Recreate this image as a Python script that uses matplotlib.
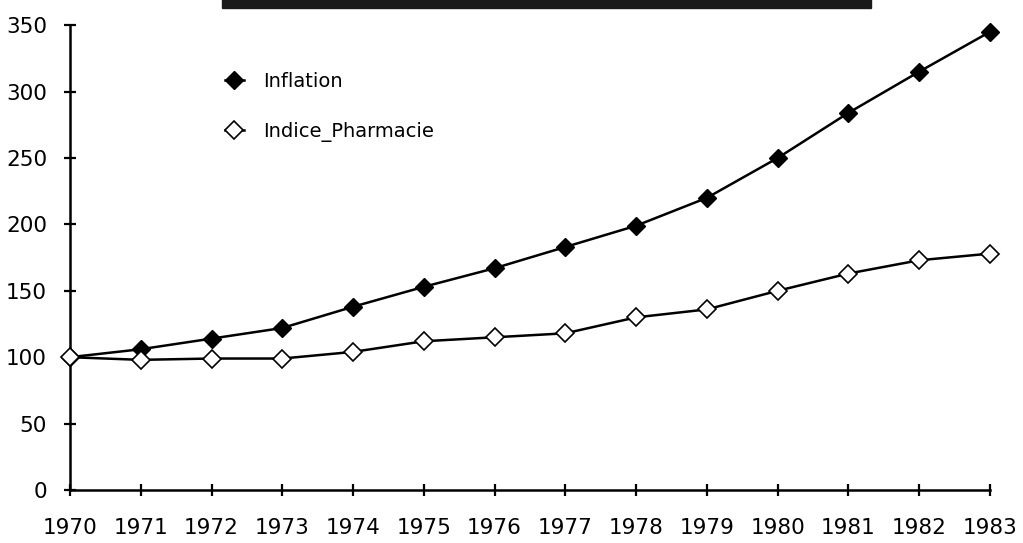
import matplotlib.pyplot as plt
from matplotlib.patches import Rectangle

annees = list(range(1970, 1984))
inflation = [100, 106, 114, 122, 138, 153, 167, 183, 199, 220, 250, 284, 315, 345]
pharmacie = [100, 98, 99, 99, 104, 112, 115, 118, 130, 136, 150, 163, 173, 178]
yticks = [0, 50, 100, 150, 200, 250, 300, 350]

fig = plt.figure(figsize=(10.23, 5.43), dpi=100)
ax = fig.add_axes([0.0684, 0.0976, 0.8993, 0.856])

# bandeau noir du titre (masqué sur le scan)
fig.patches.append(Rectangle((0.217, 0.985), 0.634, 0.02, transform=fig.transFigure,
                             color="#1a1a1a", zorder=5))

l1, = ax.plot(annees, inflation, color="black", lw=1.8, marker="D", ms=9,
              mfc="black", mec="black", clip_on=False, zorder=3)
l2, = ax.plot(annees, pharmacie, color="black", lw=1.8, marker="D", ms=9,
              mfc="white", mec="black", mew=1.2, clip_on=False, zorder=3)

ax.set_xlim(1970, 1983)
ax.set_ylim(0, 350)
ax.set_xticks(annees)
ax.set_yticks(yticks)
for s in ["top", "right"]:
    ax.spines[s].set_visible(False)
for s in ["left", "bottom"]:
    ax.spines[s].set_linewidth(1.8)
ax.tick_params(direction="inout", length=9, width=1.6, labelsize=15.5)
ax.tick_params(axis="y", pad=12)
ax.tick_params(axis="x", pad=16)

ax.legend([l1, l2], ["Inflation", "Indice_Pharmacie"], frameon=False,
          loc="upper left", bbox_to_anchor=(0.149, 0.938), fontsize=14,
          handlelength=1.0, handletextpad=1.0, labelspacing=1.6)

fig.savefig("out.png", dpi=100)
